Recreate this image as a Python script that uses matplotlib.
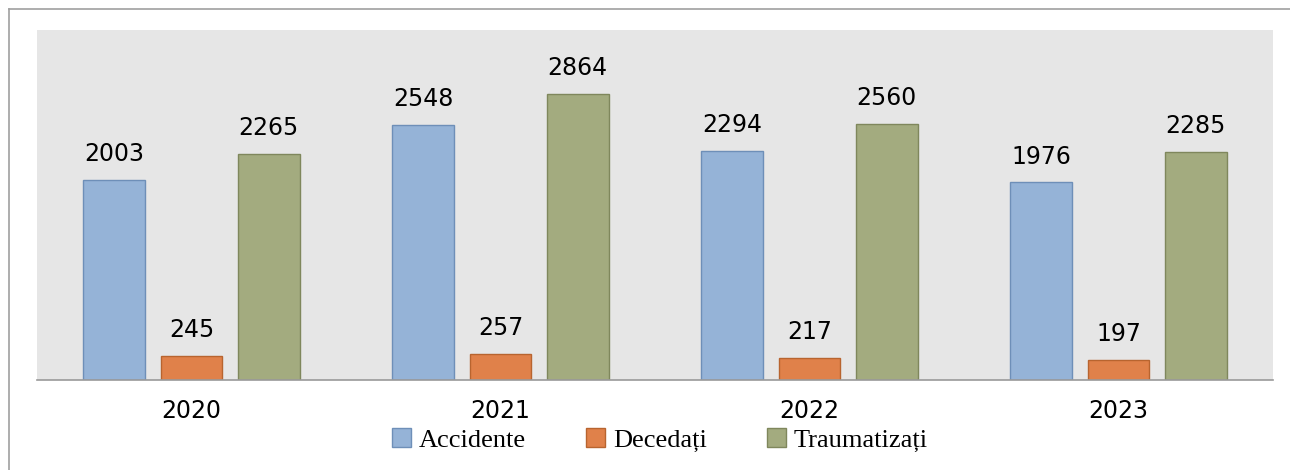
import matplotlib
matplotlib.use('Agg')
import matplotlib.pyplot as plt
import numpy as np
from matplotlib.lines import Line2D

# ── Data ──────────────────────────────────────────────────────────────────────
years = ['2020', '2021', '2022', '2023']
accidente = [2003, 2548, 2294, 1976]
decedati = [245, 257, 217, 197]
traumatizati = [2265, 2864, 2560, 2285]

series = [('Accidente', accidente, '#95B3D7', '#6E8FB8'),
          ('Decedați', decedati, '#E0814A', '#B8642F'),
          ('Traumatizați', traumatizati, '#A3AB7F', '#7F875C')]

# ── Plotting ──────────────────────────────────────────────────────────────────
fig = plt.figure(figsize=(12.9, 4.7), dpi=100)
ax = fig.add_axes([37/1290, 1 - 380/470, (1273 - 37)/1290, 350/470])
ax.set_facecolor('#E6E6E6')

x = np.arange(len(years))
width = 0.2
step = 0.25
for i, (name, vals, col, edge) in enumerate(series):
    pos = x + (i - 1) * step
    bars = ax.bar(pos, vals, width, color=col, edgecolor=edge, linewidth=1, label=name)
    for b, v in zip(bars, vals):
        ax.annotate(str(v), (b.get_x() + b.get_width() / 2, v), xytext=(0, 10),
                    textcoords='offset points', ha='center', va='bottom',
                    fontsize=17, family='DejaVu Sans', color='black')

ax.set_xlim(-0.5, len(years) - 0.5)
ax.set_ylim(0, 3500)
ax.set_xticks(x)
ax.set_xticklabels(years, fontsize=17, family='DejaVu Sans')
ax.tick_params(axis='x', length=0, pad=14)
ax.set_yticks([])
for side in ['top', 'right', 'left']:
    ax.spines[side].set_visible(False)
ax.spines['bottom'].set_color('#9A9A9A')
ax.spines['bottom'].set_linewidth(1.2)

leg = fig.legend(loc='center', bbox_to_anchor=(660/1290, 1 - 440/470), ncol=3,
                 frameon=False, prop={'family': 'Liberation Serif', 'size': 19},
                 handlelength=0.7, handleheight=0.7, handletextpad=0.3,
                 columnspacing=2.3, borderpad=0)

# page frame lines
fig.add_artist(Line2D([9/1290, 9/1290], [0, 1 - 9/470], transform=fig.transFigure,
                      color='#A0A0A0', linewidth=1.2))
fig.add_artist(Line2D([9/1290, 1], [1 - 9/470, 1 - 9/470], transform=fig.transFigure,
                      color='#A0A0A0', linewidth=1.2))

fig.savefig('out.png', dpi=100)
